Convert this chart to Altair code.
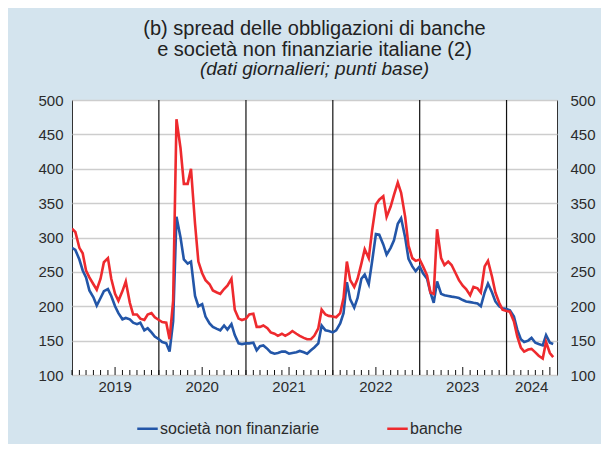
import altair as alt
import pandas as pd

# ---- data (semi-monthly readings, basis points) ----
blue_2019 = [285, 282, 268, 252, 242, 223, 213, 201, 212, 222, 225, 215,
             200, 190, 181, 183, 181, 176, 174, 176, 165, 168, 162, 156]
red_2019 = [313, 308, 285, 277, 252, 242, 232, 224, 240, 264, 270, 240,
            218, 208, 222, 236, 205, 188, 188, 182, 180, 188, 190, 184]
blue_2020 = [152, 148, 146, 134, 178, 330, 300, 268, 262, 265, 215, 200,
             203, 185, 175, 170, 167, 165, 172, 166, 174, 158, 146, 145]
red_2020 = [180, 177, 176, 152, 208, 472, 430, 378, 378, 400, 320, 265,
            248, 238, 232, 223, 220, 218, 225, 230, 240, 195, 182, 180]
blue_2021 = [146, 146, 147, 136, 142, 143, 138, 133, 131, 132, 134, 134,
             131, 132, 133, 135, 133, 131, 136, 140, 146, 172, 165, 164]
red_2021 = [182, 188, 189, 170, 170, 172, 168, 162, 160, 157, 160, 157,
            160, 164, 160, 157, 154, 152, 152, 157, 168, 195, 188, 186]
blue_2022 = [162, 165, 175, 190, 235, 210, 198, 212, 240, 246, 232, 265,
             305, 304, 290, 275, 285, 296, 320, 328, 300, 269, 258, 251]
red_2022 = [185, 184, 190, 212, 265, 238, 228, 240, 262, 283, 270, 310,
            348, 355, 360, 330, 345, 362, 380, 365, 330, 288, 270, 266]
blue_2023 = [258, 248, 240, 220, 205, 236, 218, 216, 215, 214, 213, 212,
             209, 207, 206, 205, 204, 200, 220, 233, 220, 207, 200, 197]
red_2023 = [268, 258, 245, 220, 218, 312, 270, 260, 265, 260, 248, 238,
            230, 225, 216, 228, 226, 220, 258, 266, 243, 220, 205, 195]
blue_2024 = [196, 194, 185, 166, 152, 148, 150, 154, 147, 145, 143, 158, 147, 145]
red_2024 = [193, 192, 178, 156, 140, 134, 137, 138, 133, 128, 124, 148, 132, 126]

societa = blue_2019 + blue_2020 + blue_2021 + blue_2022 + blue_2023 + blue_2024
banche = red_2019 + red_2020 + red_2021 + red_2022 + red_2023 + red_2024
dates = [d.strftime("%Y-%m-%dT00:00:00")
         for d in pd.date_range("2019-01-01", "2024-07-15", freq="SMS")]

series_names = ["società non finanziarie", "banche"]
series_colors = ["#2356a8", "#ee2a2e"]
year_bounds = ["2020-01-01T00:00:00", "2021-01-01T00:00:00", "2022-01-01T00:00:00",
               "2023-01-01T00:00:00", "2024-01-01T00:00:00"]
year_names = ["2019", "2020", "2021", "2022", "2023", "2024"]
year_label_pos = ["2019-07-01T00:00:00", "2020-07-01T00:00:00", "2021-07-01T00:00:00",
                  "2022-07-01T00:00:00", "2023-07-01T00:00:00", "2024-04-16T00:00:00"]
y_ticks = [100, 150, 200, 250, 300, 350, 400, 450, 500]

n = len(dates)
df = pd.DataFrame({
    "date": dates * 2,
    "value": societa + banche,
    "serie": [series_names[0]] * n + [series_names[1]] * n,
})
months = pd.date_range("2019-01-01", "2024-07-01", freq="MS")
ticks_df = pd.DataFrame({"date": [m.strftime("%Y-%m-%dT00:00:00") for m in months if m.month != 7]})
july_df = pd.DataFrame({"date": [m.strftime("%Y-%m-%dT00:00:00") for m in months if m.month == 7]})
bounds_df = pd.DataFrame({"date": year_bounds})
ylab_df = pd.DataFrame({"date": year_label_pos, "label": year_names})

FONT = "Liberation Sans"
TXT = "#2b2b2b"
W, H = 485, 275

x_scale = alt.Scale(domain=[alt.DateTime(year=2019, month=1, date=1),
                            alt.DateTime(year=2024, month=7, date=31)])
y_scale = alt.Scale(domain=[100, 500], nice=False, zero=False)

rules = alt.Chart(bounds_df).mark_rule(color="#111", strokeWidth=1.2).encode(
    x=alt.X("date:T", scale=x_scale, axis=None))
mticks = alt.Chart(ticks_df).mark_rule(color="#111", strokeWidth=1).encode(
    x=alt.X("date:T", scale=x_scale, axis=None), y=alt.value(H), y2=alt.value(H - 5))
jticks = alt.Chart(july_df).mark_rule(color="#111", strokeWidth=1).encode(
    x=alt.X("date:T", scale=x_scale, axis=None), y=alt.value(H), y2=alt.value(H - 8))
ylabels = alt.Chart(ylab_df).mark_text(fontSize=15, font=FONT, color=TXT, baseline="middle",
                                       align="center").encode(
    x=alt.X("date:T", scale=x_scale, axis=None), y=alt.value(H + 12), text="label:N")

lines = alt.Chart(df).mark_line(strokeWidth=2.6, clip=True).encode(
    x=alt.X("date:T", scale=x_scale, axis=None),
    y=alt.Y("value:Q", scale=y_scale, title=None,
            axis=alt.Axis(values=y_ticks, orient="left", ticks=False, domain=False, grid=True,
                          gridColor="#cdcdcd", gridWidth=1.5, labelFontSize=15, labelPadding=9,
                          labelColor=TXT, labelFont=FONT)),
    color=alt.Color("serie:N", scale=alt.Scale(domain=series_names, range=series_colors),
                    legend=alt.Legend(orient="none", legendX=64, legendY=317, direction="horizontal",
                                      title=None, symbolType="stroke", symbolStrokeWidth=2.5,
                                      symbolSize=420, labelFontSize=16, labelOffset=1,
                                      columnPadding=62, labelColor=TXT, labelFont=FONT)),
)

right = alt.Chart(df).mark_line(opacity=0).encode(
    x=alt.X("date:T", scale=x_scale, axis=None),
    y=alt.Y("value:Q", scale=y_scale, title=None,
            axis=alt.Axis(values=y_ticks, orient="right", ticks=False, domain=False, grid=False,
                          labelFontSize=15, labelPadding=13, labelColor=TXT, labelFont=FONT)),
    detail="serie:N",
)

chart = alt.layer(rules, mticks, jticks, ylabels, lines, right).resolve_axis(y="independent").properties(
    width=W, height=H,
    padding={"left": 64, "top": 92, "right": 44, "bottom": 69},
    autosize=alt.AutoSizeParams(type="none"),
    title=alt.TitleParams(
        text=["(b) spread delle obbligazioni di banche", "e società non finanziarie italiane (2)"],
        subtitle="(dati giornalieri; punti base)",
        font=FONT, fontSize=20, fontWeight="normal", color="#222", lineHeight=21.5,
        subtitleFont=FONT, subtitleFontSize=19, subtitleFontStyle="italic", subtitleColor="#222",
        subtitleLineHeight=21.5, subtitlePadding=0, anchor="middle", frame="group", offset=14),
).configure(background="#d4e4ee").configure_view(stroke="#333", strokeWidth=1, fill="white")

chart.save("out.html", embed_options={"renderer": "svg", "actions": False})
